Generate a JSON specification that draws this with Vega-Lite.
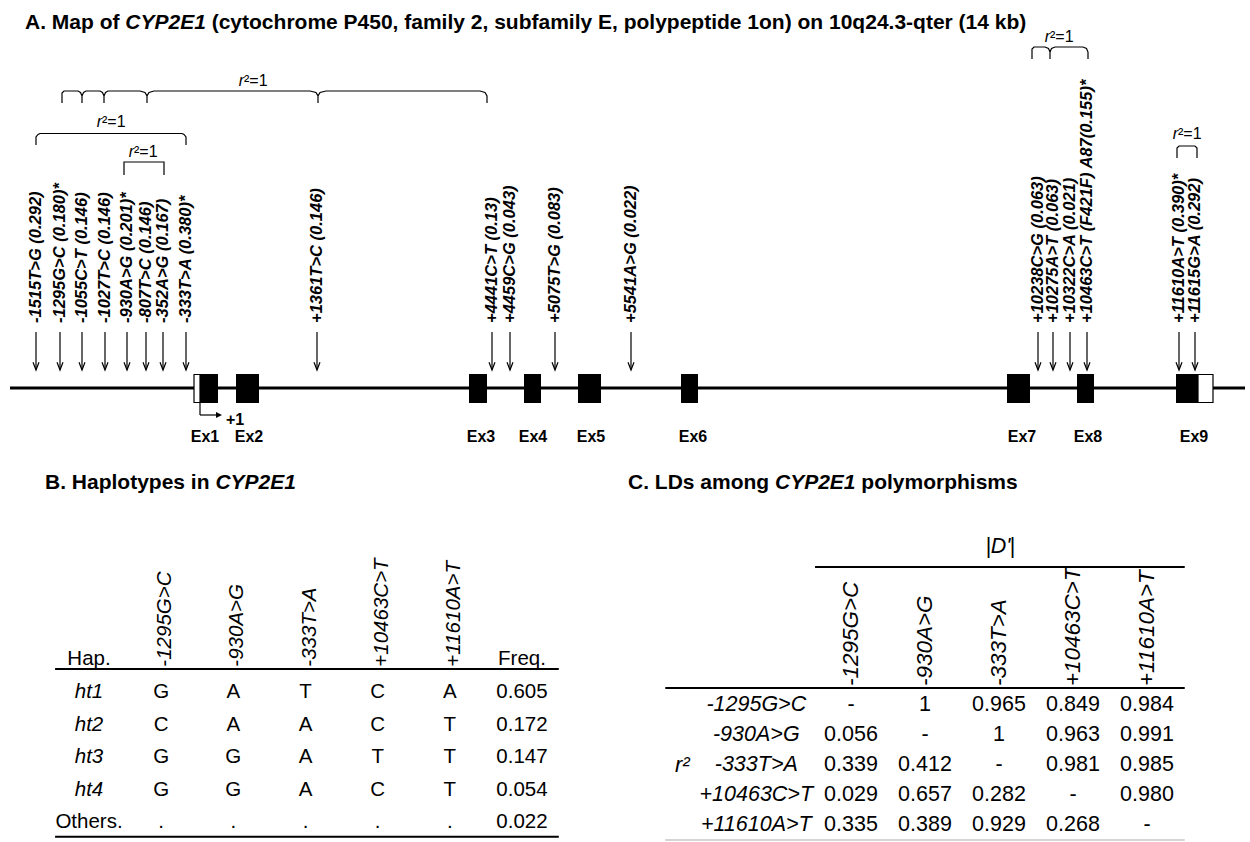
{
  "$schema": "https://vega.github.io/schema/vega-lite/v6.json",
  "width": 1250,
  "height": 842,
  "autosize": {"type": "none"},
  "padding": 0,
  "background": "white",
  "config": {"view": {"stroke": null}, "text": {"font": "Liberation Sans", "color": "black"}},
  "datasets": {
    "snps": [
      {"label": "-1515T>G (0.292)", "map": 36},
      {"label": "-1295G>C (0.180)*", "map": 60},
      {"label": "-1055C>T (0.146)", "map": 82},
      {"label": "-1027T>C (0.146)", "map": 105},
      {"label": "-930A>G (0.201)*", "map": 127},
      {"label": "-807T>C (0.146)", "map": 146},
      {"label": "-352A>G (0.167)", "map": 163},
      {"label": "-333T>A (0.380)*", "map": 186},
      {"label": "+1361T>C (0.146)", "map": 317},
      {"label": "+4441C>T (0.13)", "map": 492},
      {"label": "+4459C>G (0.043)", "map": 510},
      {"label": "+5075T>G (0.083)", "map": 555},
      {"label": "+5541A>G (0.022)", "map": 631},
      {"label": "+10238C>G (0.063)", "map": 1038},
      {"label": "+10275A>T (0.063)", "map": 1053},
      {"label": "+10322C>A (0.021)", "map": 1070},
      {"label": "+10463C>T (F421F) A87(0.155)*", "map": 1087},
      {"label": "+11610A>T (0.390)*", "map": 1179},
      {"label": "+11615G>A (0.292)", "map": 1195}
    ],
    "exons": [
      {"exon": "Ex1", "start": 200, "end": 218, "center": 205},
      {"exon": "Ex2", "start": 236, "end": 259, "center": 249},
      {"exon": "Ex3", "start": 469, "end": 487, "center": 481},
      {"exon": "Ex4", "start": 524, "end": 541, "center": 533},
      {"exon": "Ex5", "start": 578, "end": 601, "center": 591},
      {"exon": "Ex6", "start": 681, "end": 698, "center": 693},
      {"exon": "Ex7", "start": 1007, "end": 1030, "center": 1022},
      {"exon": "Ex8", "start": 1077, "end": 1094, "center": 1088},
      {"exon": "Ex9", "start": 1176, "end": 1198, "center": 1194}
    ],
    "utr": [
      {"exon": "Ex1", "start": 194, "end": 200},
      {"exon": "Ex9", "start": 1198, "end": 1213}
    ],
    "braces": [
      {"id": "b1", "ord": 1, "map": 62, "lvl": 103},
      {"id": "b1", "ord": 2, "map": 62, "lvl": 93},
      {"id": "b1", "ord": 3, "map": 64, "lvl": 91},
      {"id": "b1", "ord": 4, "map": 78, "lvl": 91},
      {"id": "b1", "ord": 5, "map": 80.5, "lvl": 92.5},
      {"id": "b1", "ord": 6, "map": 82, "lvl": 96},
      {"id": "b1", "ord": 7, "map": 82, "lvl": 103},
      {"id": "b1", "ord": 8, "map": 82, "lvl": 96},
      {"id": "b1", "ord": 9, "map": 83.5, "lvl": 92.5},
      {"id": "b1", "ord": 10, "map": 86, "lvl": 91},
      {"id": "b1", "ord": 11, "map": 100, "lvl": 91},
      {"id": "b1", "ord": 12, "map": 102.5, "lvl": 92.5},
      {"id": "b1", "ord": 13, "map": 104, "lvl": 96},
      {"id": "b1", "ord": 14, "map": 104, "lvl": 103},
      {"id": "b1", "ord": 15, "map": 104, "lvl": 96},
      {"id": "b1", "ord": 16, "map": 105.5, "lvl": 92.5},
      {"id": "b1", "ord": 17, "map": 108, "lvl": 91},
      {"id": "b1", "ord": 18, "map": 140, "lvl": 91},
      {"id": "b1", "ord": 19, "map": 145, "lvl": 92.5},
      {"id": "b1", "ord": 20, "map": 147, "lvl": 96},
      {"id": "b1", "ord": 21, "map": 147, "lvl": 103},
      {"id": "b1", "ord": 22, "map": 147, "lvl": 96},
      {"id": "b1", "ord": 23, "map": 149, "lvl": 92.5},
      {"id": "b1", "ord": 24, "map": 154, "lvl": 91},
      {"id": "b1", "ord": 25, "map": 310, "lvl": 91},
      {"id": "b1", "ord": 26, "map": 316, "lvl": 92.5},
      {"id": "b1", "ord": 27, "map": 318, "lvl": 96},
      {"id": "b1", "ord": 28, "map": 318, "lvl": 103},
      {"id": "b1", "ord": 29, "map": 318, "lvl": 96},
      {"id": "b1", "ord": 30, "map": 320, "lvl": 92.5},
      {"id": "b1", "ord": 31, "map": 326, "lvl": 91},
      {"id": "b1", "ord": 32, "map": 480, "lvl": 91},
      {"id": "b1", "ord": 33, "map": 485, "lvl": 92.5},
      {"id": "b1", "ord": 34, "map": 487, "lvl": 96},
      {"id": "b1", "ord": 35, "map": 487, "lvl": 103},
      {"id": "b2", "ord": 1, "map": 36, "lvl": 145},
      {"id": "b2", "ord": 2, "map": 36, "lvl": 137},
      {"id": "b2", "ord": 3, "map": 38, "lvl": 134.5},
      {"id": "b2", "ord": 4, "map": 40, "lvl": 133.5},
      {"id": "b2", "ord": 5, "map": 182, "lvl": 133.5},
      {"id": "b2", "ord": 6, "map": 184, "lvl": 134.5},
      {"id": "b2", "ord": 7, "map": 186, "lvl": 137},
      {"id": "b2", "ord": 8, "map": 186, "lvl": 145},
      {"id": "b3", "ord": 1, "map": 124, "lvl": 175},
      {"id": "b3", "ord": 2, "map": 124, "lvl": 162},
      {"id": "b3", "ord": 3, "map": 164, "lvl": 162},
      {"id": "b3", "ord": 4, "map": 164, "lvl": 175},
      {"id": "b4", "ord": 1, "map": 1032, "lvl": 59},
      {"id": "b4", "ord": 2, "map": 1032, "lvl": 49},
      {"id": "b4", "ord": 3, "map": 1034, "lvl": 47},
      {"id": "b4", "ord": 4, "map": 1045, "lvl": 47},
      {"id": "b4", "ord": 5, "map": 1048.5, "lvl": 48.5},
      {"id": "b4", "ord": 6, "map": 1050, "lvl": 52},
      {"id": "b4", "ord": 7, "map": 1050, "lvl": 59},
      {"id": "b4", "ord": 8, "map": 1050, "lvl": 52},
      {"id": "b4", "ord": 9, "map": 1051.5, "lvl": 48.5},
      {"id": "b4", "ord": 10, "map": 1055, "lvl": 47},
      {"id": "b4", "ord": 11, "map": 1083, "lvl": 47},
      {"id": "b4", "ord": 12, "map": 1086.5, "lvl": 48.5},
      {"id": "b4", "ord": 13, "map": 1088, "lvl": 52},
      {"id": "b4", "ord": 14, "map": 1088, "lvl": 59},
      {"id": "b5", "ord": 1, "map": 1177, "lvl": 158},
      {"id": "b5", "ord": 2, "map": 1177, "lvl": 148},
      {"id": "b5", "ord": 3, "map": 1179, "lvl": 146},
      {"id": "b5", "ord": 4, "map": 1195, "lvl": 146},
      {"id": "b5", "ord": 5, "map": 1197, "lvl": 148},
      {"id": "b5", "ord": 6, "map": 1197, "lvl": 158}
    ],
    "r2labels": [
      {"id": "b1", "map": 253, "lvl": 81},
      {"id": "b2", "map": 111, "lvl": 122},
      {"id": "b3", "map": 143, "lvl": 152},
      {"id": "b4", "map": 1059, "lvl": 37},
      {"id": "b5", "map": 1187, "lvl": 134}
    ],
    "hapB": [
      {"hap": "ht1", "r": 1, "freq": "0.605"},
      {"hap": "ht2", "r": 2, "freq": "0.172"},
      {"hap": "ht3", "r": 3, "freq": "0.147"},
      {"hap": "ht4", "r": 4, "freq": "0.054"},
      {"hap": "Others.", "r": 5, "freq": "0.022"}
    ],
    "cellsB": [
      {"r": 1, "c": 1, "allele": "G"}, {"r": 1, "c": 2, "allele": "A"}, {"r": 1, "c": 3, "allele": "T"}, {"r": 1, "c": 4, "allele": "C"}, {"r": 1, "c": 5, "allele": "A"},
      {"r": 2, "c": 1, "allele": "C"}, {"r": 2, "c": 2, "allele": "A"}, {"r": 2, "c": 3, "allele": "A"}, {"r": 2, "c": 4, "allele": "C"}, {"r": 2, "c": 5, "allele": "T"},
      {"r": 3, "c": 1, "allele": "G"}, {"r": 3, "c": 2, "allele": "G"}, {"r": 3, "c": 3, "allele": "A"}, {"r": 3, "c": 4, "allele": "T"}, {"r": 3, "c": 5, "allele": "T"},
      {"r": 4, "c": 1, "allele": "G"}, {"r": 4, "c": 2, "allele": "G"}, {"r": 4, "c": 3, "allele": "A"}, {"r": 4, "c": 4, "allele": "C"}, {"r": 4, "c": 5, "allele": "T"},
      {"r": 5, "c": 1, "allele": "."}, {"r": 5, "c": 2, "allele": "."}, {"r": 5, "c": 3, "allele": "."}, {"r": 5, "c": 4, "allele": "."}, {"r": 5, "c": 5, "allele": "."}
    ],
    "headB": [
      {"t": "Hap.", "c": 0},
      {"t": "Freq.", "c": 6}
    ],
    "snp5": [
      {"snp": "-1295G>C", "i": 1},
      {"snp": "-930A>G", "i": 2},
      {"snp": "-333T>A", "i": 3},
      {"snp": "+10463C>T", "i": 4},
      {"snp": "+11610A>T", "i": 5}
    ],
    "ldC": [
      {"r": 1, "c": 1, "v": "-"}, {"r": 1, "c": 2, "v": "1"}, {"r": 1, "c": 3, "v": "0.965"}, {"r": 1, "c": 4, "v": "0.849"}, {"r": 1, "c": 5, "v": "0.984"},
      {"r": 2, "c": 1, "v": "0.056"}, {"r": 2, "c": 2, "v": "-"}, {"r": 2, "c": 3, "v": "1"}, {"r": 2, "c": 4, "v": "0.963"}, {"r": 2, "c": 5, "v": "0.991"},
      {"r": 3, "c": 1, "v": "0.339"}, {"r": 3, "c": 2, "v": "0.412"}, {"r": 3, "c": 3, "v": "-"}, {"r": 3, "c": 4, "v": "0.981"}, {"r": 3, "c": 5, "v": "0.985"},
      {"r": 4, "c": 1, "v": "0.029"}, {"r": 4, "c": 2, "v": "0.657"}, {"r": 4, "c": 3, "v": "0.282"}, {"r": 4, "c": 4, "v": "-"}, {"r": 4, "c": 5, "v": "0.980"},
      {"r": 5, "c": 1, "v": "0.335"}, {"r": 5, "c": 2, "v": "0.389"}, {"r": 5, "c": 3, "v": "0.929"}, {"r": 5, "c": 4, "v": "0.268"}, {"r": 5, "c": 5, "v": "-"}
    ]
  },
  "layer": [
    {
      "layer": [
        {
          "data": {"values": [{"gene": "CYP2E1"}]},
          "mark": {"type": "rule", "strokeWidth": 3.2, "color": "black"},
          "encoding": {
            "x": {"datum": 10, "type": "quantitative", "scale": {"domain": [0, 1250], "range": [0, 1250], "nice": false, "zero": false}, "axis": null},
            "x2": {"datum": 1245},
            "y": {"datum": 388, "type": "quantitative", "scale": {"domain": [0, 842], "range": [0, 842], "nice": false, "zero": false}, "axis": null}
          }
        },
        {
          "data": {"name": "exons"},
          "mark": {"type": "rect", "color": "black"},
          "encoding": {
            "x": {"field": "start", "type": "quantitative", "axis": null},
            "x2": {"field": "end"},
            "y": {"datum": 374, "type": "quantitative", "axis": null},
            "y2": {"datum": 403}
          }
        },
        {
          "data": {"name": "utr"},
          "mark": {"type": "rect", "fill": "white", "stroke": "black", "strokeWidth": 1.2},
          "encoding": {
            "x": {"field": "start", "type": "quantitative", "axis": null},
            "x2": {"field": "end"},
            "y": {"datum": 374.5, "type": "quantitative", "axis": null},
            "y2": {"datum": 402.5}
          }
        },
        {
          "data": {"name": "snps"},
          "mark": {"type": "rule", "strokeWidth": 1.2, "color": "black"},
          "encoding": {
            "x": {"field": "map", "type": "quantitative", "axis": null},
            "y": {"datum": 332, "type": "quantitative", "axis": null},
            "y2": {"datum": 369.5}
          }
        },
        {
          "data": {"name": "snps"},
          "mark": {"type": "point", "shape": "M-1,-2.6L0,0L1,-2.6", "filled": false, "stroke": "black", "strokeWidth": 1.2, "size": 36, "opacity": 1},
          "encoding": {
            "x": {"field": "map", "type": "quantitative", "axis": null},
            "y": {"datum": 370, "type": "quantitative", "axis": null}
          }
        },
        {
          "data": {"name": "snps"},
          "mark": {"type": "text", "angle": 270, "align": "left", "baseline": "middle", "fontSize": 16.5, "fontWeight": "bold", "fontStyle": "italic"},
          "encoding": {
            "x": {"field": "map", "type": "quantitative", "axis": null},
            "y": {"datum": 323, "type": "quantitative", "axis": null},
            "text": {"field": "label"}
          }
        },
        {
          "data": {"name": "exons"},
          "mark": {"type": "text", "align": "center", "baseline": "middle", "fontSize": 16, "fontWeight": "bold"},
          "encoding": {
            "x": {"field": "center", "type": "quantitative", "axis": null},
            "y": {"datum": 437, "type": "quantitative", "axis": null},
            "text": {"field": "exon"}
          }
        },
        {
          "data": {"values": [{"site": "+1"}]},
          "mark": {"type": "rule", "strokeWidth": 1.2, "color": "black"},
          "encoding": {
            "x": {"datum": 200, "type": "quantitative", "axis": null},
            "y": {"datum": 403, "type": "quantitative", "axis": null},
            "y2": {"datum": 415}
          }
        },
        {
          "data": {"values": [{"site": "+1"}]},
          "mark": {"type": "rule", "strokeWidth": 1.2, "color": "black"},
          "encoding": {
            "x": {"datum": 200, "type": "quantitative", "axis": null},
            "x2": {"datum": 216},
            "y": {"datum": 415, "type": "quantitative", "axis": null}
          }
        },
        {
          "data": {"values": [{"site": "+1"}]},
          "mark": {"type": "point", "shape": "M-2,-1L0,0L-2,1Z", "filled": true, "color": "black", "size": 36, "opacity": 1},
          "encoding": {
            "x": {"datum": 222, "type": "quantitative", "axis": null},
            "y": {"datum": 415, "type": "quantitative", "axis": null}
          }
        },
        {
          "data": {"values": [{"site": "+1"}]},
          "mark": {"type": "text", "align": "center", "baseline": "middle", "fontSize": 16, "fontWeight": "bold"},
          "encoding": {
            "x": {"datum": 235, "type": "quantitative", "axis": null},
            "y": {"datum": 420, "type": "quantitative", "axis": null},
            "text": {"field": "site"}
          }
        },
        {
          "data": {"name": "braces"},
          "mark": {"type": "line", "strokeWidth": 1.2, "color": "black"},
          "encoding": {
            "x": {"field": "map", "type": "quantitative", "axis": null},
            "y": {"field": "lvl", "type": "quantitative", "axis": null},
            "detail": {"field": "id"},
            "order": {"field": "ord"}
          }
        },
        {
          "data": {"name": "r2labels"},
          "mark": {"type": "text", "align": "right", "baseline": "middle", "fontSize": 16, "fontStyle": "italic", "dx": -9, "text": "r"},
          "encoding": {
            "x": {"field": "map", "type": "quantitative", "axis": null},
            "y": {"field": "lvl", "type": "quantitative", "axis": null}
          }
        },
        {
          "data": {"name": "r2labels"},
          "mark": {"type": "text", "align": "left", "baseline": "middle", "fontSize": 16, "dx": -9, "text": "²=1"},
          "encoding": {
            "x": {"field": "map", "type": "quantitative", "axis": null},
            "y": {"field": "lvl", "type": "quantitative", "axis": null}
          }
        },
        {
          "data": {"values": [{"t": "A. Map of"}]},
          "mark": {"type": "text", "align": "left", "baseline": "alphabetic", "fontSize": 21, "fontWeight": "bold"},
          "encoding": {
            "x": {"datum": 25, "type": "quantitative", "axis": null},
            "y": {"datum": 29, "type": "quantitative", "axis": null},
            "text": {"field": "t"}
          }
        },
        {
          "data": {"values": [{"t": "CYP2E1"}]},
          "mark": {"type": "text", "align": "left", "baseline": "alphabetic", "fontSize": 21, "fontWeight": "bold", "fontStyle": "italic"},
          "encoding": {
            "x": {"datum": 125.3, "type": "quantitative", "axis": null},
            "y": {"datum": 29, "type": "quantitative", "axis": null},
            "text": {"field": "t"}
          }
        },
        {
          "data": {"values": [{"t": "(cytochrome P450, family 2, subfamily E, polypeptide 1on) on 10q24.3-qter (14 kb)"}]},
          "mark": {"type": "text", "align": "left", "baseline": "alphabetic", "fontSize": 21, "fontWeight": "bold"},
          "encoding": {
            "x": {"datum": 211.7, "type": "quantitative", "axis": null},
            "y": {"datum": 29, "type": "quantitative", "axis": null},
            "text": {"field": "t"}
          }
        },
        {
          "data": {"values": [{"t": "B. Haplotypes in"}]},
          "mark": {"type": "text", "align": "left", "baseline": "alphabetic", "fontSize": 21, "fontWeight": "bold"},
          "encoding": {
            "x": {"datum": 45, "type": "quantitative", "axis": null},
            "y": {"datum": 489, "type": "quantitative", "axis": null},
            "text": {"field": "t"}
          }
        },
        {
          "data": {"values": [{"t": "CYP2E1"}]},
          "mark": {"type": "text", "align": "left", "baseline": "alphabetic", "fontSize": 21, "fontWeight": "bold", "fontStyle": "italic"},
          "encoding": {
            "x": {"datum": 215.4, "type": "quantitative", "axis": null},
            "y": {"datum": 489, "type": "quantitative", "axis": null},
            "text": {"field": "t"}
          }
        },
        {
          "data": {"values": [{"t": "C. LDs among"}]},
          "mark": {"type": "text", "align": "left", "baseline": "alphabetic", "fontSize": 21, "fontWeight": "bold"},
          "encoding": {
            "x": {"datum": 628, "type": "quantitative", "axis": null},
            "y": {"datum": 489, "type": "quantitative", "axis": null},
            "text": {"field": "t"}
          }
        },
        {
          "data": {"values": [{"t": "CYP2E1"}]},
          "mark": {"type": "text", "align": "left", "baseline": "alphabetic", "fontSize": 21, "fontWeight": "bold", "fontStyle": "italic"},
          "encoding": {
            "x": {"datum": 775, "type": "quantitative", "axis": null},
            "y": {"datum": 489, "type": "quantitative", "axis": null},
            "text": {"field": "t"}
          }
        },
        {
          "data": {"values": [{"t": "polymorphisms"}]},
          "mark": {"type": "text", "align": "left", "baseline": "alphabetic", "fontSize": 21, "fontWeight": "bold"},
          "encoding": {
            "x": {"datum": 861.3, "type": "quantitative", "axis": null},
            "y": {"datum": 489, "type": "quantitative", "axis": null},
            "text": {"field": "t"}
          }
        }
      ]
    },
    {
      "layer": [
        {
          "data": {"name": "hapB"},
          "transform": [{"filter": "datum.hap !== 'Others.'"}],
          "mark": {"type": "text", "align": "center", "baseline": "middle", "fontSize": 20.5, "fontStyle": "italic"},
          "encoding": {
            "x": {"datum": 0, "type": "quantitative", "scale": {"domain": [0, 6], "range": [89, 522], "nice": false, "zero": false}, "axis": null},
            "y": {"field": "r", "type": "quantitative", "scale": {"domain": [0, 5], "range": [659.5, 822], "nice": false, "zero": false}, "axis": null},
            "text": {"field": "hap"}
          }
        },
        {
          "data": {"name": "hapB"},
          "transform": [{"filter": "datum.hap === 'Others.'"}],
          "mark": {"type": "text", "align": "center", "baseline": "middle", "fontSize": 20.5},
          "encoding": {
            "x": {"datum": 0, "type": "quantitative", "axis": null},
            "y": {"field": "r", "type": "quantitative", "axis": null},
            "text": {"field": "hap"}
          }
        },
        {
          "data": {"name": "hapB"},
          "mark": {"type": "text", "align": "center", "baseline": "middle", "fontSize": 20.5},
          "encoding": {
            "x": {"datum": 6, "type": "quantitative", "axis": null},
            "y": {"field": "r", "type": "quantitative", "axis": null},
            "text": {"field": "freq"}
          }
        },
        {
          "data": {"name": "cellsB"},
          "mark": {"type": "text", "align": "center", "baseline": "middle", "fontSize": 20.5},
          "encoding": {
            "x": {"field": "c", "type": "quantitative", "axis": null},
            "y": {"field": "r", "type": "quantitative", "axis": null},
            "text": {"field": "allele"}
          }
        },
        {
          "data": {"name": "headB"},
          "mark": {"type": "text", "align": "center", "baseline": "alphabetic", "fontSize": 20.5},
          "encoding": {
            "x": {"field": "c", "type": "quantitative", "axis": null},
            "y": {"datum": 0.17, "type": "quantitative", "axis": null},
            "text": {"field": "t"}
          }
        },
        {
          "data": {"name": "snp5"},
          "mark": {"type": "text", "angle": 270, "align": "left", "baseline": "middle", "fontSize": 20.5, "fontStyle": "italic", "dy": 4},
          "encoding": {
            "x": {"field": "i", "type": "quantitative", "axis": null},
            "y": {"datum": 0.22, "type": "quantitative", "axis": null},
            "text": {"field": "snp"}
          }
        },
        {
          "data": {"values": [{"line": "header"}]},
          "mark": {"type": "rule", "strokeWidth": 2, "color": "black"},
          "encoding": {
            "x": {"datum": -0.47, "type": "quantitative", "axis": null},
            "x2": {"datum": 6.51},
            "y": {"datum": 0.29, "type": "quantitative", "axis": null}
          }
        },
        {
          "data": {"values": [{"line": "bottom"}]},
          "mark": {"type": "rule", "strokeWidth": 2, "color": "black"},
          "encoding": {
            "x": {"datum": -0.47, "type": "quantitative", "axis": null},
            "x2": {"datum": 6.51},
            "y": {"datum": 5.45, "type": "quantitative", "axis": null}
          }
        }
      ]
    },
    {
      "layer": [
        {
          "data": {"name": "ldC"},
          "mark": {"type": "text", "align": "center", "baseline": "middle", "fontSize": 21.5},
          "encoding": {
            "x": {"field": "c", "type": "quantitative", "scale": {"domain": [1, 5], "range": [851, 1147], "nice": false, "zero": false}, "axis": null},
            "y": {"field": "r", "type": "quantitative", "scale": {"domain": [1, 5], "range": [705, 825], "nice": false, "zero": false}, "axis": null},
            "text": {"field": "v"}
          }
        },
        {
          "data": {"name": "snp5"},
          "mark": {"type": "text", "align": "center", "baseline": "middle", "fontSize": 21.5, "fontStyle": "italic"},
          "encoding": {
            "x": {"datum": -0.28, "type": "quantitative", "axis": null},
            "y": {"field": "i", "type": "quantitative", "axis": null},
            "text": {"field": "snp"}
          }
        },
        {
          "data": {"name": "snp5"},
          "mark": {"type": "text", "angle": 270, "align": "left", "baseline": "middle", "fontSize": 22.5, "fontStyle": "italic"},
          "encoding": {
            "x": {"field": "i", "type": "quantitative", "axis": null},
            "y": {"datum": 0.37, "type": "quantitative", "axis": null},
            "text": {"field": "snp"}
          }
        },
        {
          "data": {"values": [{"t": "r²"}]},
          "mark": {"type": "text", "align": "center", "baseline": "middle", "fontSize": 22, "fontStyle": "italic"},
          "encoding": {
            "x": {"datum": -1.28, "type": "quantitative", "axis": null},
            "y": {"datum": 3, "type": "quantitative", "axis": null},
            "text": {"field": "t"}
          }
        },
        {
          "data": {"values": [{"t": "D'"}]},
          "mark": {"type": "text", "align": "center", "baseline": "middle", "fontSize": 21.5, "fontStyle": "italic"},
          "encoding": {
            "x": {"datum": 3.02, "type": "quantitative", "axis": null},
            "y": {"datum": -4.27, "type": "quantitative", "axis": null},
            "text": {"field": "t"}
          }
        },
        {
          "data": {"values": [{"t": "|", "side": "left"}]},
          "mark": {"type": "text", "align": "center", "baseline": "middle", "fontSize": 21.5, "dx": -12},
          "encoding": {
            "x": {"datum": 3.02, "type": "quantitative", "axis": null},
            "y": {"datum": -4.27, "type": "quantitative", "axis": null},
            "text": {"field": "t"}
          }
        },
        {
          "data": {"values": [{"t": "|", "side": "right"}]},
          "mark": {"type": "text", "align": "center", "baseline": "middle", "fontSize": 21.5, "dx": 12},
          "encoding": {
            "x": {"datum": 3.02, "type": "quantitative", "axis": null},
            "y": {"datum": -4.27, "type": "quantitative", "axis": null},
            "text": {"field": "t"}
          }
        },
        {
          "data": {"values": [{"line": "dprime"}]},
          "mark": {"type": "rule", "strokeWidth": 2, "color": "black"},
          "encoding": {
            "x": {"datum": 0.514, "type": "quantitative", "axis": null},
            "x2": {"datum": 5.51},
            "y": {"datum": -3.6, "type": "quantitative", "axis": null}
          }
        },
        {
          "data": {"values": [{"line": "header"}]},
          "mark": {"type": "rule", "strokeWidth": 2, "color": "black"},
          "encoding": {
            "x": {"datum": -1.51, "type": "quantitative", "axis": null},
            "x2": {"datum": 5.51},
            "y": {"datum": 0.433, "type": "quantitative", "axis": null}
          }
        },
        {
          "data": {"values": [{"line": "bottom"}]},
          "mark": {"type": "rule", "strokeWidth": 2, "color": "#d4d4d4"},
          "encoding": {
            "x": {"datum": -1.51, "type": "quantitative", "axis": null},
            "x2": {"datum": 5.51},
            "y": {"datum": 5.5, "type": "quantitative", "axis": null}
          }
        }
      ]
    }
  ],
  "resolve": {"scale": {"x": "independent", "y": "independent"}}
}
